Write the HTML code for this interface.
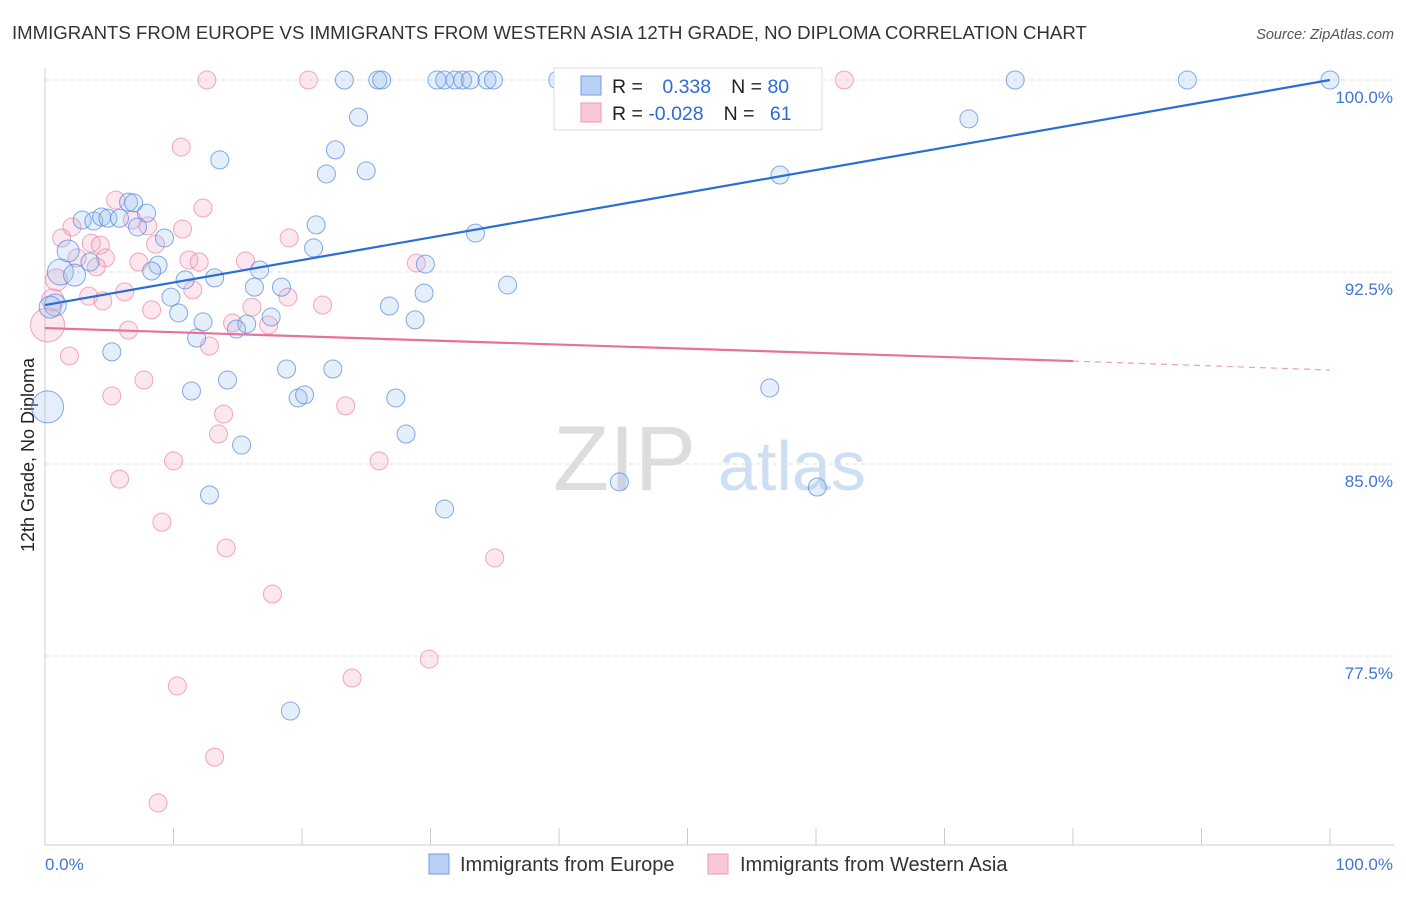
<!DOCTYPE html>
<html><head><meta charset="utf-8"><style>
body{margin:0;background:#fff;font-family:"Liberation Sans",sans-serif}
svg text{font-family:"Liberation Sans",sans-serif}
</style></head><body>
<svg id="c" width="1406" height="892" viewBox="0 0 1406 892">
<text x="12" y="39" font-size="18.6" fill="#333">IMMIGRANTS FROM EUROPE VS IMMIGRANTS FROM WESTERN ASIA 12TH GRADE, NO DIPLOMA CORRELATION CHART</text>
<text x="1394" y="39" font-size="14.5" fill="#555" text-anchor="end" font-style="italic">Source: ZipAtlas.com</text>
<text x="553" y="490" font-size="92" fill="#ddd" font-family="Liberation Serif">ZIP</text>
<text x="718" y="490" font-size="70" fill="#cfdff3">atlas</text>
<text transform="translate(34,455) rotate(-90)" font-size="18" fill="#222" text-anchor="middle">12th Grade, No Diploma</text>
<g id="grid"></g><g id="pts"></g><g id="lines"></g>
<g>
<rect x="554" y="68" width="268" height="62" fill="#fff" stroke="#ddd"/>
<rect x="581" y="76" width="20" height="19" fill="#b9d0f5" stroke="#6f9ee8"/>
<rect x="581" y="103" width="20" height="19" fill="#fbc8d7" stroke="#ef9ab4"/>
<text x="612" y="93" font-size="19.5" fill="#222">R = <tspan fill="#2e6bd3" dx="14">0.338</tspan><tspan dx="20" fill="#222">N = </tspan><tspan fill="#2e6bd3">80</tspan></text>
<text x="612" y="120" font-size="19.5" fill="#222">R = <tspan fill="#2e6bd3">-0.028</tspan><tspan dx="20" fill="#222">N = </tspan><tspan fill="#2e6bd3" dx="10">61</tspan></text>
</g>
<g>
<rect x="429" y="854" width="20" height="20" fill="#b9d0f5" stroke="#6f9ee8"/>
<text x="460" y="871" font-size="20" fill="#333">Immigrants from Europe</text>
<rect x="708" y="854" width="20" height="20" fill="#fbc8d7" stroke="#ef9ab4"/>
<text x="740" y="871" font-size="20" fill="#333">Immigrants from Western Asia</text>
</g>
</svg>
<script>
const yTicks=[100,92.5,85,77.5];
const yTickLabels=["100.0%","92.5%","85.0%","77.5%"];
const xTicks=[0,10,20,30,40,50,60,70,80,90,100];
const xTickLabels=["0.0%","100.0%"];
const euX=[23.3,25.9,26.2,30.5,31.1,31.9,32.5,33.1,34.4,34.9,39.9,40.5,47.9,50.0,75.5,88.9,100,24.4,22.6,13.6,25.0,21.9,71.9,57.2,6.5,6.9,7.9,2.9,3.8,4.4,4.9,5.8,7.2,9.3,21.1,33.5,1.8,20.9,3.5,1.2,2.3,8.8,8.3,16.7,10.9,13.2,29.6,36.0,16.3,18.4,9.8,29.5,26.8,10.4,12.3,17.6,15.7,14.9,28.8,11.8,0.8,0.4,5.2,18.8,22.4,14.2,11.4,19.7,20.2,27.3,56.4,28.1,15.3,44.7,60.1,12.8,31.1,19.1,0.2];
const euY=[100,100,100,100,100,100,100,100,100,100,100,100,100,100,100,100,100,98.55,97.27,96.88,96.45,96.33,98.48,96.29,95.23,95.2,94.8,94.53,94.49,94.65,94.6,94.6,94.26,93.83,94.34,94.02,93.32,93.44,92.89,92.5,92.38,92.77,92.54,92.58,92.19,92.27,92.81,91.99,91.91,91.91,91.52,91.68,91.17,90.9,90.55,90.74,90.47,90.27,90.63,89.92,91.21,91.13,89.38,88.71,88.71,88.28,87.85,87.58,87.7,87.58,87.97,86.17,85.74,84.3,84.1,83.79,83.24,75.35,87.23];
const euR=[9,9,9,9,9,9,9,9,9,9,9,9,9,9,9,9,9,9,9,9,9,9,9,9,9,9,9,9,9,9,9,9,9,9,9,9,11,9,9,13,11,9,9,9,9,9,9,9,9,9,9,9,9,9,9,9,9,9,9,9,11,11,9,9,9,9,9,9,9,9,9,9,9,9,9,9,9,9,16];
const waX=[12.6,20.5,62.2,10.6,5.5,12.3,6.8,8.0,2.1,1.3,3.6,4.3,8.6,10.7,19.0,2.5,4.7,7.3,11.2,12.0,15.6,4.0,28.9,0.9,6.2,11.5,3.4,18.9,21.6,0.6,4.5,8.3,16.1,14.6,17.4,6.5,12.8,0.2,1.9,7.7,5.2,23.4,13.9,13.5,10.0,26.0,5.8,9.1,14.1,35.0,17.7,29.9,10.3,23.9,13.2,8.8];
const waY=[100,100,100,97.38,95.31,95.0,94.53,94.3,94.26,93.83,93.63,93.55,93.59,94.18,93.83,93.05,93.05,92.89,92.97,92.89,92.93,92.7,92.85,92.19,91.72,91.8,91.56,91.52,91.21,91.41,91.37,91.02,91.13,90.51,90.43,90.23,89.61,90.43,89.22,88.28,87.66,87.27,86.95,86.17,85.12,85.12,84.41,82.73,81.72,81.33,79.92,77.38,76.33,76.64,73.55,71.76];
const waR=[9,9,9,9,9,9,9,9,9,9,9,9,9,9,9,9,9,9,9,9,9,9,9,11,9,9,9,9,9,11,9,9,9,9,9,9,9,17,9,9,9,9,9,9,9,9,9,9,9,9,9,9,9,9,9,9];
const euLineX=[0,100], euLineY=[91.21,100];
const waLineX=[0,80,100], waLineY=[90.31,89.02,88.67];
const X0=45,X1=1330,Y0=80,PXY=25.6;
const sx=v=>X0+(X1-X0)*v/100;
const sy=v=>Y0+(100-v)*PXY;
const NS='http://www.w3.org/2000/svg';
function mk(t,a,p){const e=document.createElementNS(NS,t);for(const k in a)e.setAttribute(k,a[k]);p.appendChild(e);return e;}
const grid=document.getElementById('grid');
yTicks.forEach((t,i)=>{
 const l=mk('line',{x1:X0,x2:1394,y1:sy(t),y2:sy(t),stroke:'#ddd','stroke-dasharray':'4,4'},grid);
 
 
 const tx=mk('text',{x:1393,y:sy(t)+23,'font-size':17,fill:'#3f76d6','text-anchor':'end'},grid);
 tx.textContent=yTickLabels[i];
 
 
});
const ax=mk('line',{x1:X0,x2:X0,y1:68,y2:845,stroke:'#ccc'},grid);


const bx=mk('line',{x1:X0,x2:1394,y1:845,y2:845,stroke:'#ccc'},grid);


xTicks.forEach(t=>{
 const l=mk('line',{x1:sx(t),x2:sx(t),y1:828,y2:845,stroke:'#ccc'},grid);
 
 
});
[[0,'start',45],[100,'end',1393]].forEach((d,i)=>{
 const tx=mk('text',{x:d[2],y:870,'font-size':17,fill:'#3f76d6','text-anchor':d[1]},grid);
 tx.textContent=xTickLabels[i];
 
 
});
const pts=document.getElementById('pts');
waX.forEach((v,i)=>{
 const c=mk('circle',{cx:sx(v),cy:sy(waY[i]),r:waR[i],fill:'rgba(246,160,188,0.25)',stroke:'rgba(236,130,165,0.7)','stroke-width':1},pts);
 
 
});
euX.forEach((v,i)=>{
 const c=mk('circle',{cx:sx(v),cy:sy(euY[i]),r:euR[i],fill:'rgba(150,186,240,0.25)',stroke:'rgba(80,135,220,0.7)','stroke-width':1},pts);
 
 
});
const lines=document.getElementById('lines');
const bl=mk('line',{x1:sx(euLineX[0]),y1:sy(euLineY[0]),x2:sx(euLineX[1]),y2:sy(euLineY[1]),stroke:'#2a6dd6','stroke-width':2.2},lines);


const pl=mk('line',{x1:sx(waLineX[0]),y1:sy(waLineY[0]),x2:sx(waLineX[1]),y2:sy(waLineY[1]),stroke:'#e8709a','stroke-width':2.2},lines);


const pd=mk('line',{x1:sx(waLineX[1]),y1:sy(waLineY[1]),x2:sx(waLineX[2]),y2:sy(waLineY[2]),stroke:'#e8a0b8','stroke-width':1.2,'stroke-dasharray':'6,5'},lines);


</script>
</body></html>
